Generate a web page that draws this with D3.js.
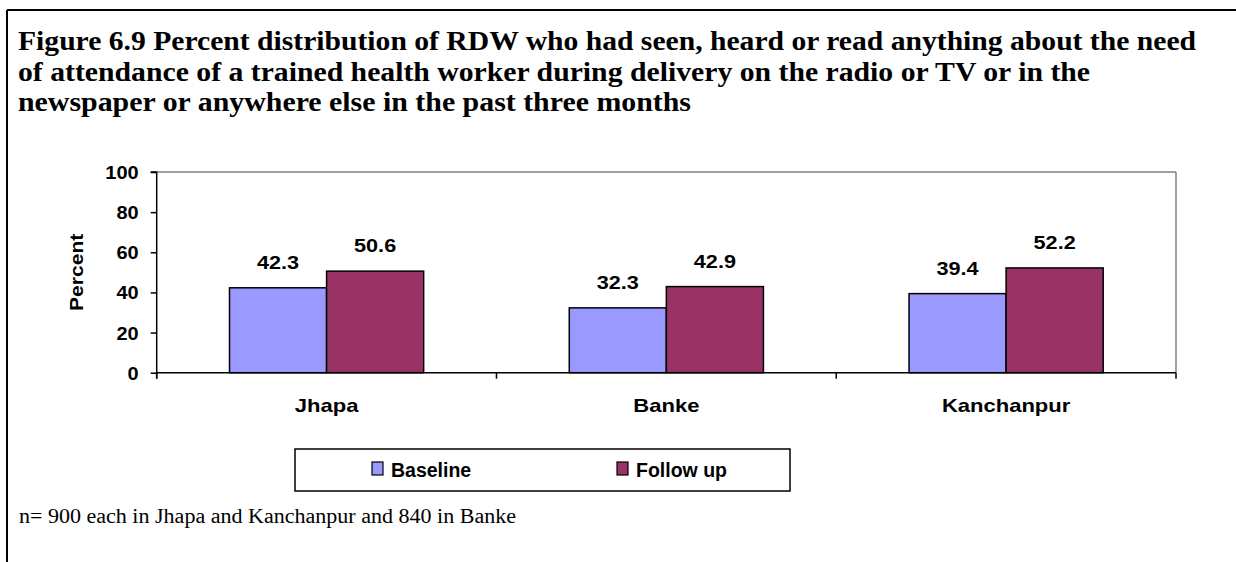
<!DOCTYPE html>
<html><head><meta charset="utf-8">
<script src="https://cdn.jsdelivr.net/npm/d3@7"></script>
<style>
html,body{margin:0;padding:0;background:#fff;}
svg{display:block;}
</style></head>
<body>
<svg id="chart" width="1236" height="562"></svg>
<script>
const categories = ["Jhapa", "Banke", "Kanchanpur"];
const seriesNames = ["Baseline", "Follow up"];
const baselineValues = [42.3, 32.3, 39.4];
const followUpValues = [50.6, 42.9, 52.2];
const yTicks = [0, 20, 40, 60, 80, 100];
const titleLines = [
  "Figure 6.9 Percent distribution of RDW who had seen, heard or read anything about the need",
  "of attendance of a trained health worker during delivery on the radio or TV or in the",
  "newspaper or anywhere else in the past three months"
];
const footnote = "n= 900 each in Jhapa and Kanchanpur and 840 in Banke";
const colors = ["#9999FF", "#993366"];

const SANS = "Liberation Sans, Arial, sans-serif";
const SERIF = "Liberation Serif, Times New Roman, serif";

const svg = d3.select("#chart");
function sans(sel, size) {
  return sel.attr("font-family", SANS).attr("font-weight", 700).attr("font-size", size).attr("fill", "#000");
}
function stretch(sel, f) {
  sel.each(function() {
    const w = this.getComputedTextLength();
    d3.select(this).attr("textLength", w * f).attr("lengthAdjust", "spacingAndGlyphs");
  });
}

// outer frame (top and left)
svg.append("line").attr("x1", 7).attr("y1", 10).attr("x2", 1236).attr("y2", 10).attr("stroke", "#000").attr("stroke-width", 2);
svg.append("line").attr("x1", 7).attr("y1", 10).attr("x2", 7).attr("y2", 562).attr("stroke", "#000").attr("stroke-width", 2);

// title
const titleWidths = [1178, 1072, 673];
svg.append("g").selectAll("text").data(titleLines).join("text")
  .attr("font-family", SERIF).attr("font-weight", 700).attr("font-size", 27.5)
  .attr("x", 18).attr("y", (d, i) => 50 + i * 30.5)
  .attr("textLength", (d, i) => titleWidths[i]).attr("lengthAdjust", "spacingAndGlyphs")
  .text(d => d);

// plot area
const L = 156.7, R = 1176, T = 172, B = 372.7;
const x = d3.scaleBand().domain(categories).range([L, R]).padding(0);
const bw = x.bandwidth();
const xs = d3.scaleBand().domain(seriesNames).range([bw * 0.75 / 3.5, bw - bw * 0.75 / 3.5]).padding(0);
const y = d3.scaleLinear().domain([0, 100]).range([B, T]);

// frame top & right (gray)
svg.append("line").attr("x1", L).attr("x2", R).attr("y1", y(100)).attr("y2", y(100)).attr("stroke", "#808080").attr("stroke-width", 1.5);
svg.append("line").attr("x1", R).attr("x2", R).attr("y1", y(100)).attr("y2", B).attr("stroke", "#808080").attr("stroke-width", 1.5);

// bars
const data = [];
categories.forEach((c, i) => {
  data.push({cat: c, s: seriesNames[0], v: baselineValues[i], k: 0});
  data.push({cat: c, s: seriesNames[1], v: followUpValues[i], k: 1});
});
svg.append("g").selectAll("rect").data(data).join("rect")
  .attr("x", d => x(d.cat) + xs(d.s))
  .attr("y", d => y(d.v))
  .attr("width", xs.bandwidth())
  .attr("height", d => y(0) - y(d.v))
  .attr("fill", d => colors[d.k])
  .attr("stroke", "#000").attr("stroke-width", 1.5);

// value labels
const vl = sans(svg.append("g").selectAll("text").data(data).join("text"), 18.5)
  .attr("text-anchor", "middle")
  .attr("x", d => x(d.cat) + xs(d.s) + xs.bandwidth() / 2)
  .attr("y", d => y(d.v) - 19)
  .text(d => d.v.toFixed(1));
stretch(vl, 1.17);

// y axis
const yAxis = d3.axisLeft(y).tickValues(yTicks).tickSize(6).tickPadding(12).tickFormat(d3.format("d"));
const gy = svg.append("g").attr("transform", `translate(${L},0)`).call(yAxis);
gy.select(".domain").attr("stroke", "#000").attr("stroke-width", 1.5).attr("d", `M-6,${T}H0V${B + 6}`);
gy.selectAll(".tick line").attr("stroke", "#000").attr("stroke-width", 1.5);
sans(gy.selectAll(".tick text"), 18.5).attr("dy", "0.35em");
stretch(gy.selectAll(".tick text"), 1.08);

// x axis
const xAxis = d3.axisBottom(x).tickSize(0).tickPadding(0);
const gx = svg.append("g").attr("transform", `translate(0,${B})`).call(xAxis);
gx.select(".domain").attr("stroke", "#000").attr("stroke-width", 1.5).attr("d", `M${L},0H${R}`);
sans(gx.selectAll(".tick text"), 18.5).attr("y", 39).attr("dy", 0);
stretch(gx.selectAll(".tick text"), 1.19);
// category boundary ticks
const bounds = categories.map(c => x(c)).concat([R]);
svg.append("g").selectAll("line").data(bounds).join("line")
  .attr("x1", d => d).attr("x2", d => d).attr("y1", B).attr("y2", B + 6)
  .attr("stroke", "#000").attr("stroke-width", 1.5);

// y axis title
const yt = sans(svg.append("text"), 18.5).attr("text-anchor", "middle")
  .attr("transform", `translate(83,${(T + B) / 2}) rotate(-90)`).text("Percent");
stretch(yt, 1.14);

// legend
const lg = svg.append("g");
lg.append("rect").attr("x", 295).attr("y", 449).attr("width", 495).attr("height", 42)
  .attr("fill", "#fff").attr("stroke", "#000").attr("stroke-width", 1.5);
const legendX = [372, 617];
seriesNames.forEach((s, i) => {
  lg.append("rect").attr("x", legendX[i]).attr("y", 462).attr("width", 11).attr("height", 13)
    .attr("fill", colors[i]).attr("stroke", "#000").attr("stroke-width", 1.2);
  const t = sans(lg.append("text"), 19.5).attr("x", legendX[i] + 19).attr("y", 477).text(s);
  stretch(t, 1.0);
});

// footnote
svg.append("text").attr("font-family", SERIF).attr("font-weight", 400).attr("font-size", 20)
  .attr("x", 19).attr("y", 523).attr("textLength", 497).attr("lengthAdjust", "spacingAndGlyphs").text(footnote);
</script>
</body></html>
